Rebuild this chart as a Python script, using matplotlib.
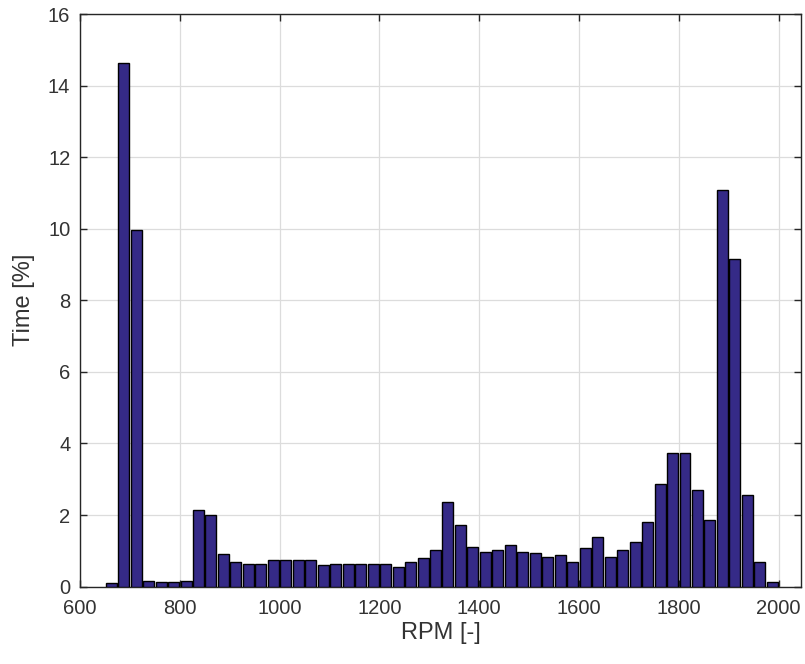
import matplotlib
matplotlib.use("Agg")
import matplotlib.pyplot as plt
import numpy as np

# Bin left edges (RPM) and time share (%)
bin_edges = [650, 675, 700, 725, 750, 775, 800, 825, 850, 875,
             900, 925, 950, 975, 1000, 1025, 1050, 1075, 1100, 1125,
             1150, 1175, 1200, 1225, 1250, 1275, 1300, 1325, 1350, 1375,
             1400, 1425, 1450, 1475, 1500, 1525, 1550, 1575, 1600, 1625,
             1650, 1675, 1700, 1725, 1750, 1775, 1800, 1825, 1850, 1875,
             1900, 1925, 1950, 1975]
time_pct = [0.10, 14.62, 9.97, 0.17, 0.12, 0.12, 0.17, 2.13, 2.01, 0.92,
            0.69, 0.64, 0.64, 0.73, 0.73, 0.73, 0.73, 0.60, 0.64, 0.64,
            0.64, 0.64, 0.62, 0.56, 0.69, 0.79, 1.02, 2.36, 1.72, 1.10,
            0.97, 1.02, 1.16, 0.97, 0.93, 0.84, 0.88, 0.69, 1.07, 1.38,
            0.83, 1.02, 1.25, 1.81, 2.88, 3.72, 3.72, 2.70, 1.86, 11.07,
            9.16, 2.56, 0.70, 0.14]
bin_width = 25
x_ticks = [600, 800, 1000, 1200, 1400, 1600, 1800, 2000]
y_ticks = [0, 2, 4, 6, 8, 10, 12, 14, 16]

plt.rcParams['font.family'] = ['Liberation Sans', 'DejaVu Sans']

fig = plt.figure(figsize=(8.05, 6.64), dpi=100)
ax = fig.add_axes([80/805, (664-586.6)/664, 721/805, 572.6/664])

centers = np.array(bin_edges) + bin_width / 2
ax.bar(centers, time_pct, width=bin_width * 0.88, color='#352A87',
       edgecolor='black', linewidth=1.0, zorder=3)

ax.set_xlim(600, 2045)
ax.set_ylim(0, 16)
ax.set_xticks(x_ticks)
ax.set_yticks(y_ticks)
ax.grid(True, color='#dcdcdc', linewidth=0.9, zorder=0)
ax.set_axisbelow(True)

txt = '#333333'
for s in ax.spines.values():
    s.set_color('#262626')
    s.set_linewidth(1.0)

ax.tick_params(direction='in', length=5, width=1, colors='#262626',
               top=True, right=True, labelsize=14.5, labelcolor=txt)
ax.tick_params(axis='x', pad=9)
ax.tick_params(axis='y', pad=7)

ax.set_xlabel('RPM [-]', fontsize=17, color=txt, labelpad=3)
ax.set_ylabel('Time [%]', fontsize=17, color=txt, labelpad=9)

fig.savefig('out.png', dpi=100)
